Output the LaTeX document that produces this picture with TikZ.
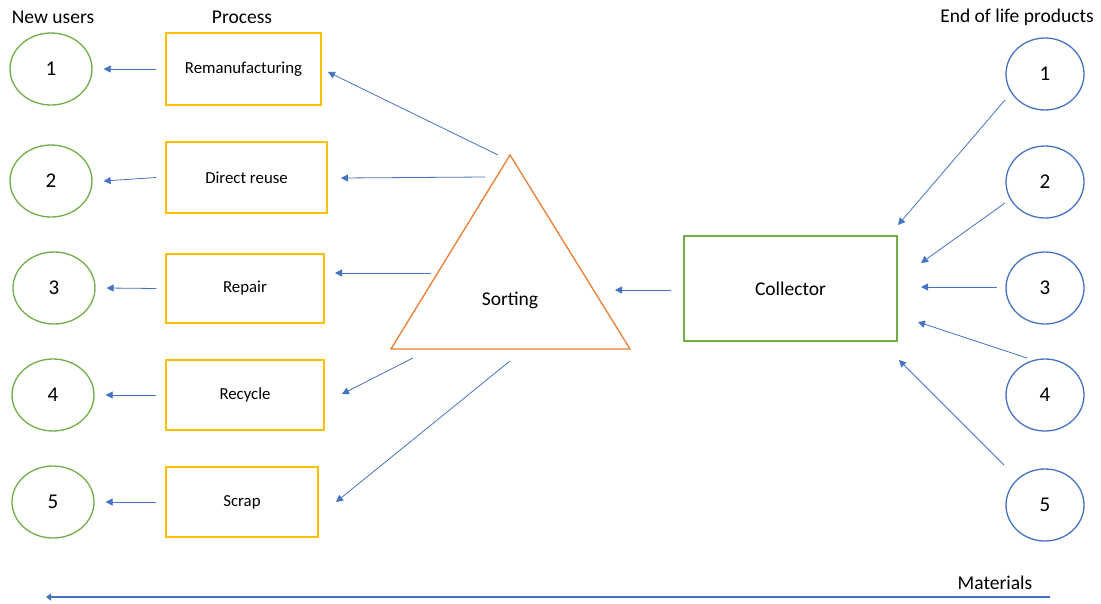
\documentclass[tikz,border=0pt]{standalone}
\usepackage{fontspec}
\setmainfont{Carlito}
\usetikzlibrary{shapes.geometric,arrows.meta}
\definecolor{cgreen}{HTML}{70AD47}
\definecolor{cyellow}{HTML}{FFC000}
\definecolor{corange}{HTML}{ED7D31}
\definecolor{cblue}{HTML}{4472C4}
\tikzset{
  x=1pt,y=-1pt,
  usercirc/.style={ellipse,draw=cgreen,line width=1.3pt,minimum width=82pt,minimum height=72pt,inner sep=0pt,font=\fontsize{21}{23}\selectfont},
  eolcirc/.style={ellipse,draw=cblue,line width=1.3pt,minimum width=78pt,minimum height=72pt,inner sep=0pt,font=\fontsize{21}{23}\selectfont},
  procbox/.style={draw=cyellow,line width=1.3pt,inner sep=0pt,font=\fontsize{16.8}{18}\selectfont},
  arr/.style={draw=cblue,line width=0.8pt,-{Triangle[width=7pt,length=7pt]}},
  title/.style={font=\fontsize{19.5}{21}\selectfont,inner sep=0pt}
}
\begin{document}
\begin{tikzpicture}
\useasboundingbox (0,0) rectangle (1101,603);
% titles
\node[title] (tnew) at (53,17) {New users};
\node[title] (tproc) at (242,17) {Process};
\node[title] (teol) at (1017,17) {End of life products};
% new users
\node[usercirc] (u1) at (51,69) {1};
\node[usercirc] (u2) at (51,181) {2};
\node[usercirc] (u3) at (54,288) {3};
\node[usercirc] (u4) at (53,395) {4};
\node[usercirc] (u5) at (53,502) {5};
% process boxes
\node[procbox,minimum width=155pt,minimum height=72pt] (b1) at (243.5,69) {Remanufacturing};
\node[procbox,minimum width=161pt,minimum height=71pt] (b2) at (246.5,177.5) {Direct reuse};
\node[procbox,minimum width=158pt,minimum height=69pt] (b3) at (245,288.5) {Repair};
\node[procbox,minimum width=158pt,minimum height=70pt] (b4) at (245,395) {Recycle};
\node[procbox,minimum width=152pt,minimum height=70pt] (b5) at (242,502) {Scrap};
% box -> user arrows
\foreach \i in {1,...,5}{
  \draw[arr] ([xshift=-9pt]b\i.west) -- ([xshift=11pt]u\i.east);
}
% sorting triangle
\coordinate (ta) at (510,155);
\coordinate (tl) at (391,349);
\coordinate (tr) at (630,349);
\draw[corange,line width=1.3pt,line join=miter] (ta) -- (tl) -- (tr) -- cycle;
\node[font=\fontsize{19.5}{21}\selectfont] (sort) at (510,300) {Sorting};
% collector
\node[draw=cgreen,line width=1.3pt,minimum width=213pt,minimum height=105pt,font=\fontsize{19.5}{21}\selectfont] (coll) at (790.5,288.5) {Collector};
% eol circles
\node[eolcirc] (e1) at (1045,74) {1};
\node[eolcirc] (e2) at (1045,182) {2};
\node[eolcirc] (e3) at (1045,288) {3};
\node[eolcirc] (e4) at (1045,395) {4};
\node[eolcirc] (e5) at (1045,505) {5};
% eol -> collector
\coordinate (a1s) at (1005,100); \coordinate (a1e) at (898,225);
\coordinate (a2s) at (1005,203); \coordinate (a2e) at (921,263);
\coordinate (a3s) at (997,287);  \coordinate (a3e) at (921,287);
\coordinate (a4s) at (1027,358); \coordinate (a4e) at (918,322);
\coordinate (a5s) at (1004,465); \coordinate (a5e) at (899,360);
\foreach \i in {1,...,5}{\draw[arr] (a\i s) -- (a\i e);}
% collector -> sorting
\coordinate (cs) at (671,290); \coordinate (ce) at (615,290);
\draw[arr] (cs) -- (ce);
% sorting -> process
\coordinate (p1s) at (498,155); \coordinate (p1e) at (328,72);
\coordinate (p2s) at (485,177); \coordinate (p2e) at (341,178);
\coordinate (p3s) at (431,273); \coordinate (p3e) at (335,273);
\coordinate (p4s) at (413,358); \coordinate (p4e) at (342,394);
\coordinate (p5s) at (510,361); \coordinate (p5e) at (336,502);
\foreach \i in {1,...,5}{\draw[arr] (p\i s) -- (p\i e);}
% materials
\node[title] (mat) at (995,583) {Materials};
\coordinate (ms) at (1050,597); \coordinate (me) at (46,597);
\draw[draw=cblue,line width=2pt,-{Triangle[width=7pt,length=5pt]}] (ms) -- (me);
\end{tikzpicture}
\end{document}
